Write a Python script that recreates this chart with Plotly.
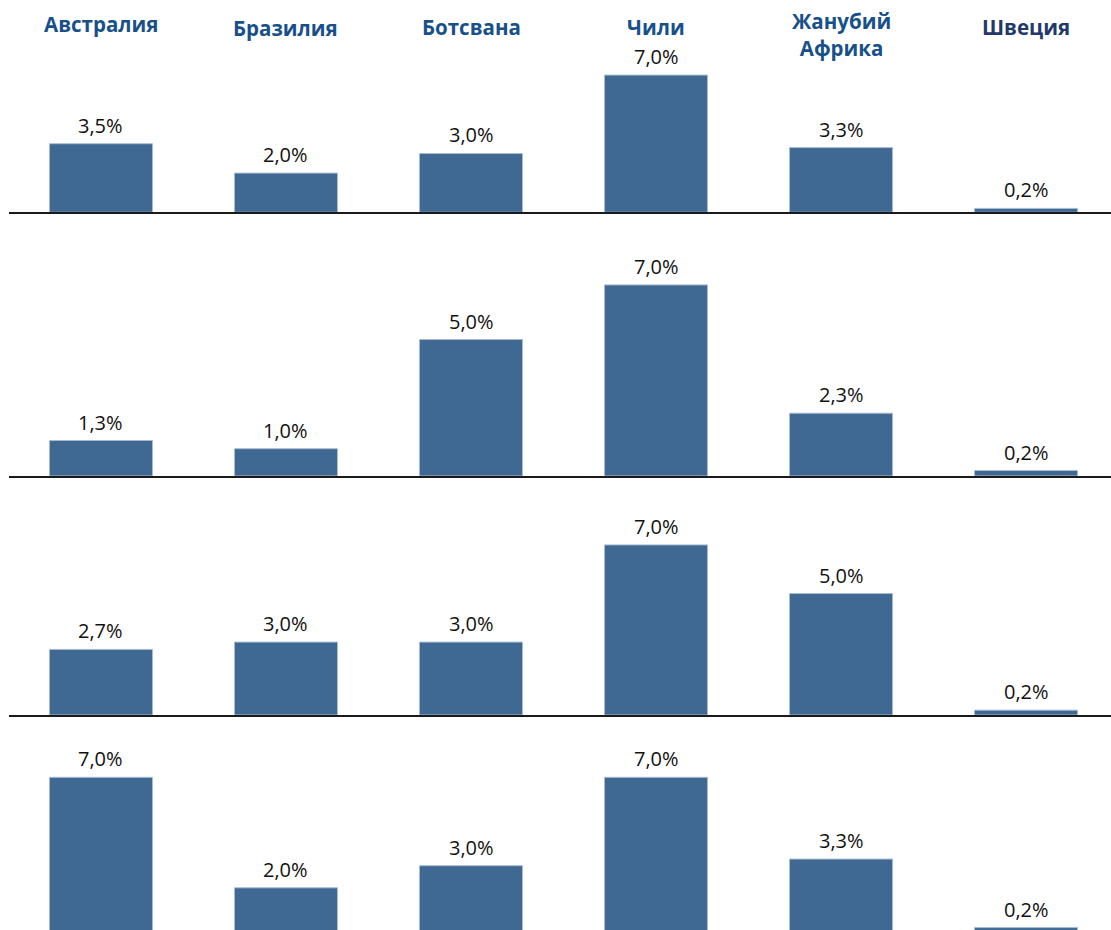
import plotly.graph_objects as go

countries = ["Австралия", "Бразилия", "Ботсвана", "Чили", "Жанубий<br>Африка", "Швеция"]
row1 = [3.5, 2.0, 3.0, 7.0, 3.3, 0.2]
row2 = [1.3, 1.0, 5.0, 7.0, 2.3, 0.2]
row3 = [2.7, 3.0, 3.0, 7.0, 5.0, 0.2]
row4 = [7.0, 2.0, 3.0, 7.0, 3.3, 0.2]
rows = [row1, row2, row3, row4]

BAR = "#3F6892"
H = 930
# pixel layout per row: (baseline_px, top_px, px_per_unit, show_baseline)
row_geom = [
    (212.3, 60, 19.6, True),
    (476.0, 240, 27.3, True),
    (715.0, 500, 24.3, True),
    (932.0, 740, 22.1, False),
]

def fmt(v):
    return f"{v:.1f}".replace(".", ",") + "%"

fig = go.Figure()
xpos = list(range(len(countries)))
for i, vals in enumerate(rows):
    k = "" if i == 0 else str(i + 1)
    fig.add_trace(go.Bar(
        x=xpos, y=vals, width=0.557,
        marker=dict(color=BAR, line=dict(color="#A9BCD2", width=1)),
        cliponaxis=False,
        xaxis="x" + k, yaxis="y" + k, showlegend=False, hoverinfo="skip",
    ))
    for j, v in enumerate(vals):
        fig.add_annotation(
            x=j, y=v, xref="x" + k, yref="y" + k, text=fmt(v),
            showarrow=False, yanchor="bottom", yshift=3,
            font=dict(family="Open Sans", size=20, color="#111111"),
        )

layout = dict(
    width=1111, height=H, margin=dict(l=0, r=0, t=0, b=0),
    plot_bgcolor="white", paper_bgcolor="white",
)
x0 = 9 / 1111
for i, (base, top, scale, show) in enumerate(row_geom):
    k = "" if i == 0 else str(i + 1)
    dom_bottom_px = min(base, H)
    y_lo = (base - dom_bottom_px) / scale
    y_hi = y_lo + (dom_bottom_px - top) / scale
    layout["yaxis" + k] = dict(
        domain=[1 - dom_bottom_px / H, 1 - top / H], range=[y_lo, y_hi],
        visible=False, showgrid=False, zeroline=False, anchor="x" + k,
    )
    layout["xaxis" + k] = dict(
        domain=[x0, 1], range=[-0.497, 5.459], anchor="y" + k,
        showticklabels=False, ticks="", showgrid=False, zeroline=False,
        showline=show, linecolor="#1a1a1a", linewidth=1.5,
    )
fig.update_layout(**layout)

header_colors = ["#18508A", "#18508A", "#18508A", "#18508A", "#18508A", "#22396A"]
header_y = [24, 28, 27, 27, 35, 27]
for j, name in enumerate(countries):
    fig.add_annotation(
        x=j, xref="x", y=1 - header_y[j] / H, yref="paper",
        text="<b>" + name + "</b>", showarrow=False, yanchor="middle",
        font=dict(family="Open Sans", size=20.5, color=header_colors[j]),
    )

fig.write_html(
    "out.html",
    config={"displayModeBar": False},
    post_script="document.body.style.margin='0';document.body.style.overflow='hidden';",
)
